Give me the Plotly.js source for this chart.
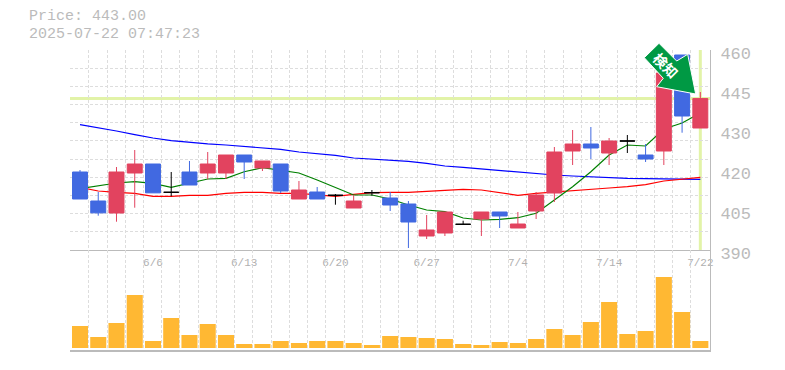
<!DOCTYPE html>
<html><head><meta charset="utf-8">
<script src="https://cdn.plot.ly/plotly-3.0.1.min.js"></script>
<style>html,body{margin:0;padding:0;background:#fff}#c{width:785px;height:370px}</style>
</head><body><div id="c"></div>
<script>
const candleIndex = Array.from({length:35},(_,i)=>i);
const openP  = [417.3,407.15,402.95,416.95,420.1,410.2,417.3,416.95,416.95,423.25,418.7,420.1,407.85,410.3,409.15,404.7,410.05,408.2,406.1,394.9,395.95,399,400.85,403.3,397.7,403.65,409.95,424.65,427.1,423.95,428.15,423.25,424.65,458.25,432.7];
const highP  = [418,410.3,419.05,425,420.1,417.3,421.15,424.3,423.25,423.25,421.15,420.1,414.15,412.05,409.6,409.25,411,410.3,407.15,402.25,403.3,400.25,403.3,403.3,403.3,410.3,426.05,432,433.05,429.2,430.25,427.1,452,458.25,445.3];
const lowP   = [407.85,402,399.9,404.8,410,408.8,412.75,414.75,414.85,414.85,417.65,409.95,407.85,407.85,405.85,404.7,409,403.65,390.7,393.85,394.9,399,394.9,397.7,397.7,400.85,406.8,419.75,421.85,419.75,423.95,420.8,419.75,431.05,432.7];
const closeP = [407.85,403,417.3,420.1,410,410.2,412.75,420.1,423.25,420.8,421.15,410.65,411,407.85,409.15,407.15,410.05,405.75,399.8,397,403.3,399,403.3,401.9,399.1,409.25,424.3,427.1,425.7,428.15,428.15,421.85,451.95,436.9,443];
const volume = [22,11,25,53,7,30,13,24,13,4,4,7,5,7,7,5,3,12,11,10,9,4,3,6,5,9,19,13,26,46,14,17,71,36,7];
const maShort = [411.5,412.4,413.45,413.9,413.35,411.95,413.35,414.85,415.1,417.4,418.8,418,416.95,414.5,411.95,409.25,409.25,407.85,405.75,404,403.4,401.2,400.5,400.75,401.3,402.85,407.5,412.15,417.4,423.25,426.75,426.4,432.35,434.45,437.95];
const maMid   = [411.9,410.65,410.2,409.85,408.8,408.8,409.15,409.15,409.85,410.2,410.2,409.85,409.8,409.25,408.8,409.5,410.1,410.2,410.2,410.55,410.8,411.25,411,410.2,409.15,409.85,410.3,410.55,411,411.7,412.2,412.9,414.15,414.85,415.4];
const maLong  = [433.9,432.85,431.65,430.4,429.2,428.3,427.65,427.15,426.75,426.3,425.9,425.2,424.3,423.8,423.1,422.2,421.85,421.5,421,420.3,419.4,418.9,418.35,417.8,417.1,416.75,416.25,415.9,415.55,415.4,415.1,415,414.9,414.85,414.75];
const dateTickIndex = [4,9,14,19,24,29,34];
const dateTickLabels = ['6/6','6/13','6/20','6/27','7/4','7/14','7/22'];
const priceTickVals = [460,446,432,418,404,390];
const priceTickLabels = ['460','445','430','420','405','390'];
const lastPrice = 443;
const lastIndex = 34;
const priceLabel = 'Price: 443.00';
const timeLabel = '2025-07-22 07:47:23';
const badgeLabel = '検知';

const RED='#E2435F', BLUE='#4169E1', GRID='#dddddd', AXIS='#bbbbbb', GOLD='#FFB833', MARK='#E2F3A8';
const MONO='"Liberation Mono", monospace';
const L=70,R=710,T=50,B=350;
const px=(x)=>(x-L)/(R-L), py=(y)=>(B-y)/(B-T);

const isDoji=i=>openP[i]===closeP[i];
const pick=(arr,f)=>candleIndex.filter(f).map(i=>arr[i]);
const solid=i=>!isDoji(i);
const candle=(f,inc,dec)=>({type:'candlestick',xaxis:'x',yaxis:'y3',
  x:candleIndex.filter(f),open:pick(openP,f),high:pick(highP,f),low:pick(lowP,f),close:pick(closeP,f),
  whiskerwidth:0,
  increasing:{line:{color:inc,width:1},fillcolor:inc},
  decreasing:{line:{color:dec,width:1},fillcolor:dec},hoverinfo:'skip'});
const ma=(y,c)=>({type:'scatter',mode:'lines',x:candleIndex,y:y,xaxis:'x',yaxis:'y',line:{color:c,width:1.2},hoverinfo:'skip'});

const traces=[
  {type:'bar',x:candleIndex,y:volume,xaxis:'x2',yaxis:'y2',marker:{color:GOLD,line:{width:0}},hoverinfo:'skip'},
  ma(maLong,'#0000FF'),ma(maMid,'#FF0000'),ma(maShort,'#008000'),
  candle(solid,RED,BLUE),
  candle(isDoji,'#000000','#000000')
];
const gridX=candleIndex.map(i=>i-0.52);
const gridY=Array.from({length:12},(_,k)=>390+k*70/11);
const xBase={range:[-0.548,34.53],showgrid:false,zeroline:false,rangeslider:{visible:false},ticklen:0,
  minor:{tickmode:'array',tickvals:gridX,showgrid:true,gridcolor:GRID,griddash:'3px,2px',gridwidth:1,ticklen:0},
  showline:true,linecolor:AXIS,linewidth:1};
const layout={
  width:785,height:370,margin:{l:L,r:785-R,t:T,b:370-B,pad:0},
  paper_bgcolor:'#fff',plot_bgcolor:'#fff',showlegend:false,hovermode:false,dragmode:false,
  boxmode:'overlay',boxgap:0.18,boxgroupgap:0,bargap:0.12,
  xaxis:Object.assign({},xBase,{anchor:'y',tickmode:'array',tickvals:dateTickIndex,ticktext:dateTickLabels,
    tickangle:0,tickfont:{family:MONO,size:11,color:'#b0b0b0'},ticklabelstandoff:2}),
  xaxis2:Object.assign({},xBase,{anchor:'y2',matches:'x',showticklabels:false,linewidth:2}),
  yaxis:{domain:[1/3,1],range:[390,460],side:'right',anchor:'x',showgrid:false,zeroline:false,ticklen:0,
    tickmode:'array',tickvals:priceTickVals,ticktext:priceTickLabels,tickfont:{family:MONO,size:17,color:AXIS},
    ticklabelstandoff:6,showline:true,linecolor:AXIS,linewidth:1,
    minor:{tickmode:'array',tickvals:gridY,showgrid:true,gridcolor:GRID,griddash:'3px,2px',gridwidth:1,ticklen:0}},
  yaxis2:{domain:[0,1/3],range:[-2,98],side:'right',anchor:'x2',showgrid:false,zeroline:false,showticklabels:false,
    ticklen:0,showline:true,linecolor:AXIS,linewidth:1},
  yaxis3:{overlaying:'y',range:[390,460],side:'right',anchor:'x',visible:false},
  shapes:[
    {type:'line',layer:'below',xref:'paper',x0:0,x1:1,yref:'y',y0:lastPrice,y1:lastPrice,line:{color:MARK,width:3}},
    {type:'line',layer:'below',xref:'x',x0:lastIndex,x1:lastIndex,yref:'y',y0:390,y1:460,line:{color:MARK,width:3}},
    {type:'path',layer:'above',xref:'paper',yref:'paper',fillcolor:'#009944',line:{color:'#ffffff',width:1},
     path:[[659,43.3],[644.3,57.7],[663.3,78.3],[656.7,86.7],[695.7,94],[687.7,54.3],[676.7,61]]
       .map((p,i)=>(i?'L':'M')+px(p[0])+' '+py(p[1])).join(' ')+' Z'}
  ],
  annotations:[
    {xref:'paper',yref:'paper',x:px(30),y:py(16.5),text:priceLabel,showarrow:false,xanchor:'left',yanchor:'middle',xshift:-2,borderpad:0,font:{family:MONO,size:15,color:AXIS}},
    {xref:'paper',yref:'paper',x:px(30),y:py(34.5),text:timeLabel,showarrow:false,xanchor:'left',yanchor:'middle',xshift:-2,borderpad:0,font:{family:MONO,size:15,color:AXIS}},
    {xref:'paper',yref:'paper',x:px(665.7),y:py(65),xanchor:'center',yanchor:'middle',text:'<b>'+badgeLabel+'</b>',textangle:45,showarrow:false,font:{family:'"Noto Sans CJK JP"',size:14,color:'#ffffff'}}
  ]
};
Plotly.newPlot('c',traces,layout,{displayModeBar:false,staticPlot:true}).then(gd=>{
  gd.querySelectorAll('.ytick text').forEach(t=>t.setAttribute('dy','3'));
});
</script></body></html>
